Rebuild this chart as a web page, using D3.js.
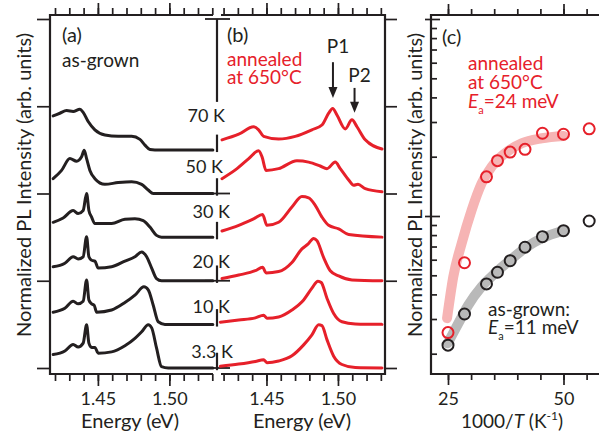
<!DOCTYPE html>
<html>
<head>
<meta charset="utf-8">
<script src="https://cdnjs.cloudflare.com/ajax/libs/d3/7.8.5/d3.min.js"></script>
<style>
  body { margin: 0; background: #fff; }
  svg text { font-family: Lato, "Open Sans", sans-serif; }
</style>
</head>
<body>
<svg id="chart" width="599" height="439"></svg>
<script>
// ===== 資料 =====
// 溫度（由下往上）
var temps = ["3.3 K", "10 K", "20 K", "30 K", "50 K", "70 K"];
var energyTicks = [1.45, 1.50];
var invTTicks = [25, 50];

// as-grown 光譜 [能量 eV, 正規化強度]
var grown3 = [[1.4187,0.31],[1.4269,0.39],[1.4327,0.54],[1.4362,0.48],[1.4397,0.57],[1.4421,0.99],[1.4437,0.57],[1.4456,0.47],[1.4479,0.47],[1.4502,0.34],[1.4596,0.37],[1.4689,0.51],[1.4759,0.68],[1.4806,0.83],[1.4852,0.99],[1.4876,0.92],[1.4910,0.46],[1.4945,0.03],[1.4992,0],[1.5304,0]];
var grown10 = [[1.4187,0.28],[1.4269,0.37],[1.4327,0.53],[1.4362,0.47],[1.4397,0.53],[1.4421,1.02],[1.4437,0.56],[1.4456,0.47],[1.4474,0.44],[1.4491,0.28],[1.4596,0.33],[1.4689,0.50],[1.4759,0.67],[1.4822,0.86],[1.4852,0.79],[1.4887,0.44],[1.4922,0.06],[1.4969,0],[1.5304,0]];
var grown20 = [[1.4187,0.32],[1.4269,0.40],[1.4327,0.55],[1.4362,0.50],[1.4397,0.55],[1.4421,1.01],[1.4437,0.55],[1.4456,0.47],[1.4479,0.45],[1.4502,0.29],[1.4596,0.32],[1.4689,0.45],[1.4759,0.55],[1.4806,0.66],[1.4841,0.55],[1.4876,0.29],[1.4910,0.05],[1.4945,0],[1.5304,0]];
var grown30 = [[1.4187,0.34],[1.4257,0.44],[1.4327,0.61],[1.4362,0.54],[1.4397,0.61],[1.4421,1.0],[1.4437,0.61],[1.4456,0.46],[1.4479,0.31],[1.4596,0.31],[1.4689,0.41],[1.4759,0.42],[1.4817,0.38],[1.4864,0.23],[1.4910,0.04],[1.4945,0],[1.5304,0]];
var grown50 = [[1.4187,0.34],[1.4246,0.53],[1.4304,0.80],[1.4351,0.74],[1.4386,0.84],[1.4404,0.99],[1.4421,0.80],[1.4444,0.53],[1.4479,0.34],[1.4549,0.21],[1.4642,0.25],[1.4736,0.27],[1.4806,0.21],[1.4852,0.08],[1.4887,0],[1.5304,0]];
var grown70 = [[1.4187,0.78],[1.4234,0.84],[1.4281,0.90],[1.4327,0.88],[1.4374,0.93],[1.4397,0.86],[1.4432,0.65],[1.4479,0.46],[1.4549,0.34],[1.4642,0.31],[1.4736,0.31],[1.4794,0.24],[1.4829,0.11],[1.4864,0.01],[1.4899,0],[1.5304,0]];

// 650°C 退火光譜
var ann3 = [[1.4177,0.04],[1.4306,0.09],[1.4422,0.15],[1.4480,0.19],[1.4503,0.12],[1.4585,0.16],[1.4678,0.28],[1.4760,0.53],[1.4818,0.76],[1.4865,0.99],[1.4888,0.97],[1.4923,0.65],[1.4970,0.27],[1.5028,0.08],[1.5121,0.01],[1.5308,0]];
var ann10 = [[1.4177,0.05],[1.4306,0.10],[1.4422,0.15],[1.4480,0.21],[1.4503,0.14],[1.4585,0.17],[1.4678,0.33],[1.4760,0.56],[1.4818,0.83],[1.4860,0.99],[1.4883,0.96],[1.4923,0.60],[1.4970,0.25],[1.5028,0.06],[1.5121,0.01],[1.5308,0]];
var ann20 = [[1.4189,0.05],[1.4306,0.13],[1.4422,0.23],[1.4473,0.31],[1.4497,0.18],[1.4585,0.21],[1.4678,0.42],[1.4748,0.73],[1.4790,0.84],[1.4830,0.97],[1.4853,0.92],[1.4900,0.53],[1.4946,0.23],[1.5005,0.11],[1.5098,0.02],[1.5308,0]];
var ann30 = [[1.4189,0.14],[1.4306,0.27],[1.4410,0.42],[1.4473,0.52],[1.4503,0.27],[1.4585,0.34],[1.4678,0.69],[1.4748,0.93],[1.4795,0.90],[1.4841,0.73],[1.4888,0.46],[1.4935,0.27],[1.5005,0.19],[1.5075,0.06],[1.5308,0]];
var ann50 = [[1.4189,0.34],[1.4294,0.57],[1.4376,0.80],[1.4445,0.98],[1.4469,0.84],[1.4497,0.53],[1.4585,0.57],[1.4713,0.75],[1.4795,0.72],[1.4876,0.63],[1.4923,0.57],[1.4981,0.72],[1.5016,0.57],[1.5075,0.31],[1.5110,0.19],[1.5140,0.21],[1.5191,0.11],[1.5308,0.04]];
var ann70 = [[1.4189,0.23],[1.4306,0.36],[1.4410,0.53],[1.4445,0.46],[1.4480,0.31],[1.4585,0.25],[1.4701,0.31],[1.4818,0.46],[1.4888,0.57],[1.4935,0.84],[1.4963,0.95],[1.4993,0.80],[1.5051,0.48],[1.5098,0.69],[1.5133,0.53],[1.5191,0.23],[1.5308,0.02]];

var grownSpectra = [grown3, grown10, grown20, grown30, grown50, grown70];
var annSpectra = [ann3, ann10, ann20, ann30, ann50, ann70];

// P1、P2 峰位 (eV)
var peakNames = ["P1", "P2"];
var peakE = [1.4965, 1.5116];

// (c) 1000/T 與強度
var invT = [25, 28.57, 33.33, 35.71, 38.46, 41.67, 45.45, 50, 55.56];
var annPL = [0.256, 0.579, 1.58, 1.91, 2.11, 2.18, 2.63, 2.60, 2.77];
var grownPL = [0.221, 0.318, 0.452, 0.518, 0.593, 0.694, 0.785, 0.842, 0.943];

// 擬合曲線
var annFitX = [24.8, 26.15, 27.97, 30.13, 32.29, 34.46, 37.34, 40.95, 45.28, 49.96];
var annFitY = [0.303, 0.492, 0.727, 1.073, 1.466, 1.78, 2.08, 2.34, 2.48, 2.55];
var grownFitX = [24.94, 27.23, 29.39, 32.29, 35.17, 38.05, 41.67, 45.28, 49.96];
var grownFitY = [0.226, 0.285, 0.353, 0.438, 0.512, 0.586, 0.686, 0.770, 0.842];

// ===== 繪圖 =====
var svg = d3.select("#chart");
var ink = "#231f20";
var red = "#e6202a";
var frameTop = 15, frameBottom = 374;

var xA = d3.scaleLinear().domain([1.4165, 1.5333]).range([50, 217]);
var xB = d3.scaleLinear().domain([1.4154, 1.5329]).range([217, 385]);
var yOff = d3.scaleLinear().domain([0, 8]).range([368, 19]);

var xC = d3.scaleLinear().domain([25, 50]).range([448, 563.5]);
var yC = d3.scaleLog().domain([1, 10]).range([216, 19]);

function styleAxis(g) {
  g.select(".domain").remove();
  g.attr("color", ink).attr("font-size", 18);
  g.selectAll("line").attr("stroke-width", 1.7);
}

function frameLine(d) {
  svg.append("path").attr("d", d)
    .attr("fill", "none").attr("stroke", ink).attr("stroke-width", 2.2);
}

// 能量軸（上下）
function energyAxes(xs) {
  var minor = d3.range(142, 154).map(d => d / 100);
  svg.append("g").attr("transform", "translate(0," + frameBottom + ")")
    .call(d3.axisBottom(xs).tickValues(minor).tickSize(7).tickFormat(""))
    .call(styleAxis);
  svg.append("g").attr("transform", "translate(0," + frameBottom + ")")
    .call(d3.axisBottom(xs).tickValues(energyTicks).tickSize(12).tickPadding(6).tickFormat(d3.format(".2f")))
    .call(styleAxis);
  svg.append("g").attr("transform", "translate(0," + frameTop + ")")
    .call(d3.axisTop(xs).tickValues(minor).tickSize(7).tickFormat(""))
    .call(styleAxis);
  svg.append("g").attr("transform", "translate(0," + frameTop + ")")
    .call(d3.axisTop(xs).tickValues(energyTicks).tickSize(12).tickFormat(""))
    .call(styleAxis);
}
energyAxes(xA);
energyAxes(xB);

// 左、右偏移刻度
svg.append("g").attr("transform", "translate(50,0)")
  .call(d3.axisLeft(yOff).tickValues([0, 2, 4, 6, 8]).tickSize(13).tickFormat(""))
  .call(styleAxis);
svg.append("g").attr("transform", "translate(385,0)")
  .call(d3.axisRight(yOff).tickValues([0, 2, 4, 6, 8]).tickSize(12).tickFormat(""))
  .call(styleAxis);

// 外框 (a)(b)
frameLine("M213," + frameTop + "H50V" + frameBottom + "H213");
frameLine("M221," + frameTop + "H385V" + frameBottom + "H221");

// 中間斷軸
var midX = 217;
var segs = [[6.1, 8]].concat(temps.map((t, k) => [k - 0.05, k + 0.35]));
segs.forEach(function (s) {
  svg.append("line")
    .attr("x1", midX).attr("x2", midX)
    .attr("y1", yOff(s[0])).attr("y2", yOff(s[1]))
    .attr("stroke", ink).attr("stroke-width", 2.2);
});
[0, 2, 4, 8].forEach(function (v) {
  svg.append("line")
    .attr("x1", midX - 12).attr("x2", midX + 13)
    .attr("y1", yOff(v)).attr("y2", yOff(v))
    .attr("stroke", ink).attr("stroke-width", 1.8);
});

// 光譜曲線
function drawSpectra(xs, spectra, color) {
  var g = svg.append("g");
  spectra.forEach(function (s, k) {
    var line = d3.line()
      .x(d => xs(d[0]))
      .y(d => yOff(d[1] + k))
      .curve(d3.curveMonotoneX);
    g.append("path").datum(s).attr("d", line)
      .attr("fill", "none").attr("stroke", color).attr("stroke-width", 3)
      .attr("stroke-linejoin", "round").attr("stroke-linecap", "round");
  });
}
drawSpectra(xA, grownSpectra, ink);
drawSpectra(xB, annSpectra, red);

// 溫度標籤
var labelLift = [0.23, 0.26, 0.29, 0.44, 0.47, 0.64];
var labelEnd = [233, 230, 230, 230, 223, 225];
temps.forEach(function (t, k) {
  svg.append("text")
    .attr("x", labelEnd[k]).attr("y", yOff(k + labelLift[k]))
    .attr("text-anchor", "end").attr("font-size", 18).attr("fill", ink)
    .text(t);
});

// P1、P2 箭頭
var arrowFrom = [7.01, 6.42], arrowTo = [6.19, 5.85], nameAt = [7.22, 6.556];
peakNames.forEach(function (p, i) {
  var x = xB(peakE[i]);
  var y0 = yOff(arrowFrom[i]), y1 = yOff(arrowTo[i]);
  svg.append("line").attr("x1", x).attr("x2", x).attr("y1", y0).attr("y2", y1 - 8)
    .attr("stroke", ink).attr("stroke-width", 2);
  svg.append("path")
    .attr("d", "M" + (x - 4.5) + "," + (y1 - 11) + "L" + (x + 4.5) + "," + (y1 - 11) + "L" + x + "," + y1 + "Z")
    .attr("fill", ink);
  svg.append("text").attr("x", x + 5).attr("y", yOff(nameAt[i]))
    .attr("text-anchor", "middle").attr("font-size", 19).attr("fill", ink).text(p);
});

// ===== (c) =====
var minorC = d3.range(25, 60, 5);
svg.append("g").attr("transform", "translate(0," + frameBottom + ")")
  .call(d3.axisBottom(xC).tickValues(minorC).tickSize(6).tickFormat(""))
  .call(styleAxis);
svg.append("g").attr("transform", "translate(0," + frameBottom + ")")
  .call(d3.axisBottom(xC).tickValues(invTTicks).tickSize(11).tickPadding(7).tickFormat(d3.format("d")))
  .call(styleAxis);
svg.append("g").attr("transform", "translate(0," + frameTop + ")")
  .call(d3.axisTop(xC).tickValues(minorC).tickSize(6).tickFormat(""))
  .call(styleAxis);
svg.append("g").attr("transform", "translate(0," + frameTop + ")")
  .call(d3.axisTop(xC).tickValues(invTTicks).tickSize(11).tickFormat(""))
  .call(styleAxis);

var logMinor = [0.2, 0.3, 0.4, 0.5, 0.6, 0.7, 0.8, 0.9, 2, 3, 4, 5, 6, 7, 8, 9];
svg.append("g").attr("transform", "translate(431,0)")
  .call(d3.axisRight(yC).tickValues(logMinor).tickSize(6).tickFormat(""))
  .call(styleAxis);
svg.append("g").attr("transform", "translate(431,0)")
  .call(d3.axisRight(yC).tickValues([1, 10]).tickSize(9).tickFormat(""))
  .call(styleAxis);
svg.append("g").attr("transform", "translate(431,0)")
  .call(d3.axisLeft(yC).tickValues([1, 10]).tickSize(6).tickFormat(""))
  .call(styleAxis);

frameLine("M610," + frameTop + "H431V" + frameBottom + "H610");

// 擬合帶
var fitLine = d3.line().x(d => xC(d[0])).y(d => yC(d[1])).curve(d3.curveMonotoneX);
svg.append("path").datum(d3.zip(annFitX, annFitY)).attr("d", fitLine)
  .attr("fill", "none").attr("stroke", "#f6b4b4").attr("stroke-width", 10)
  .attr("stroke-linecap", "round");
svg.append("path").datum(d3.zip(grownFitX, grownFitY)).attr("d", fitLine)
  .attr("fill", "none").attr("stroke", "#b9b9b9").attr("stroke-width", 10)
  .attr("stroke-linecap", "round");

// 資料點
svg.selectAll(".ann-pt").data(d3.zip(invT, annPL)).enter().append("circle")
  .attr("class", "ann-pt")
  .attr("cx", d => xC(d[0])).attr("cy", d => yC(d[1])).attr("r", 5.5)
  .attr("fill", "none").attr("stroke", red).attr("stroke-width", 2);
svg.selectAll(".grown-pt").data(d3.zip(invT, grownPL)).enter().append("circle")
  .attr("class", "grown-pt")
  .attr("cx", d => xC(d[0])).attr("cy", d => yC(d[1])).attr("r", 5.5)
  .attr("fill", "none").attr("stroke", ink).attr("stroke-width", 2);

// ===== 文字 =====
function addText(x, y, str, color, size) {
  return svg.append("text").attr("x", x).attr("y", y)
    .attr("fill", color || ink).attr("font-size", size || 19).text(str);
}
addText(62, 42, "(a)", ink, 20);
addText(62, 67, "as-grown");
addText(227, 42, "(b)", ink, 20);
addText(227, 66, "annealed", red);
addText(227, 84, "at 650°C", red);
addText(442, 44, "(c)", ink, 20);
addText(468, 70, "annealed", red);
addText(468, 89, "at 650°C", red);

function activation(x, y, value, color) {
  var t = svg.append("text").attr("x", x).attr("y", y)
    .attr("fill", color).attr("font-size", 19);
  t.append("tspan").attr("font-style", "italic").text("E");
  t.append("tspan").attr("font-size", 11).attr("dy", 6).text("a");
  t.append("tspan").attr("dy", -6).text("=" + value + " meV");
}
activation(468, 108, 24, red);
addText(488, 316, "as-grown:");
activation(488, 334, 11, ink);

// 軸標題
addText(130, 428, "Energy (eV)", ink, 20).attr("text-anchor", "middle");
addText(302, 428, "Energy (eV)", ink, 20).attr("text-anchor", "middle");
var tc = svg.append("text").attr("x", 512).attr("y", 428)
  .attr("text-anchor", "middle").attr("font-size", 19).attr("fill", ink);
tc.append("tspan").text("1000/");
tc.append("tspan").attr("font-style", "italic").text("T");
tc.append("tspan").text(" (K");
tc.append("tspan").attr("font-size", 12).attr("dy", -8).text("-1");
tc.append("tspan").attr("dy", 8).text(")");

[23, 414].forEach(function (x) {
  svg.append("text")
    .attr("transform", "translate(" + x + ",185) rotate(-90)")
    .attr("text-anchor", "middle").attr("dominant-baseline", "central")
    .attr("font-size", 20).attr("fill", ink)
    .text("Normalized PL Intensity (arb. units)");
});
</script>
</body>
</html>
